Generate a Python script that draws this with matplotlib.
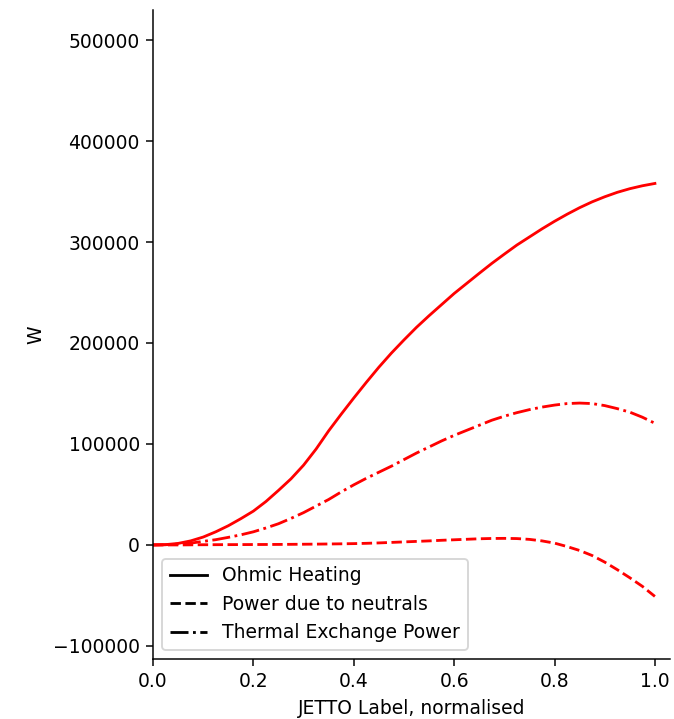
import matplotlib
matplotlib.use("Agg")
import matplotlib.pyplot as plt
import numpy as np
from matplotlib.lines import Line2D

# normalised radius grid, 0.025 spacing
rho = np.linspace(0.0, 1.0, 41)

ohmic = [0, 300, 1500, 4000, 7800, 13000, 19000, 26000, 33500, 43000,
         54000, 65500, 79000, 95000, 113000, 129500, 145500, 161000, 176000, 190000,
         203000, 215500, 227000, 238000, 249000, 259000, 269000, 278800, 288000, 297000,
         305000, 313000, 320500, 327500, 334000, 339800, 344800, 349200, 352800, 355700,
         358000]
neutrals = [0, 0, 0, 100, 200, 250, 300, 350, 400, 450,
            500, 600, 700, 800, 950, 1100, 1300, 1600, 2000, 2500,
            3000, 3500, 4000, 4600, 5100, 5600, 6100, 6400, 6500, 6300,
            5500, 4000, 1800, -1600, -5500, -10500, -17000, -24500, -32500, -41000,
            -51000]
thermal = [0, 200, 900, 1800, 3500, 5200, 7500, 10000, 13000, 16800,
           21000, 26300, 32000, 38500, 45000, 52500, 59500, 66000, 72000, 78000,
           84500, 91000, 97000, 103000, 108500, 113500, 118500, 123500, 127500, 131000,
           134000, 136500, 138500, 140000, 140500, 140000, 138000, 135000, 131500, 126500,
           120500]

labels = ["Ohmic Heating", "Power due to neutrals", "Thermal Exchange Power"]
styles = ["-", "--", "-."]

dpi = 135
fig = plt.figure(figsize=(674 / dpi, 719 / dpi), dpi=dpi)
ax = fig.add_axes([0.227, 0.0834, 0.767, 0.903])

for values, ls in zip([ohmic, neutrals, thermal], styles):
    ax.plot(rho, values, color="red", linestyle=ls, linewidth=1.5)

# legend shows line styles only, in black
handles = [Line2D([], [], color="black", linestyle=ls) for ls in styles]
ax.legend(handles, labels, loc="lower left")

ax.set_xlim(0, 1.03)
ax.set_ylim(-113000, 530000)
ax.set_xlabel("JETTO Label, normalised")
ax.set_ylabel("W")
ax.spines["top"].set_visible(False)
ax.spines["right"].set_visible(False)

fig.savefig("out.png", dpi=dpi)
